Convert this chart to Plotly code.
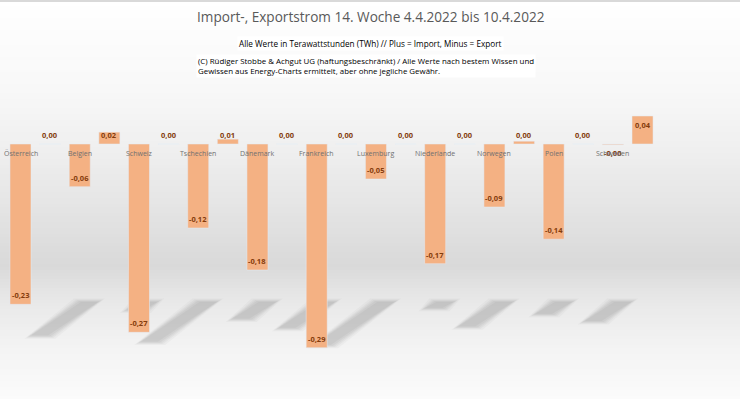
import plotly.graph_objects as go

countries = ["Österreich", "Belgien", "Schweiz", "Tschechien", "Dänemark", "Frankreich",
             "Luxemburg", "Niederlande", "Norwegen", "Polen", "Schweden"]
export_twh = [-0.229, -0.061, -0.269, -0.120, -0.180, -0.291, -0.050, -0.171, -0.090, -0.136, -0.001]
import_twh = [0.000, 0.017, 0.000, 0.007, 0.000, 0.000, 0.000, 0.000, 0.004, 0.000, 0.040]

title = "Import-, Exportstrom 14. Woche 4.4.2022 bis 10.4.2022"
sub1 = "Alle Werte in Terawattstunden (TWh) // Plus = Import, Minus = Export"
sub2 = ("(C) Rüdiger Stobbe & Achgut UG (haftungsbeschränkt) / Alle Werte nach bestem Wissen und<br>"
        "Gewissen aus Energy-Charts ermittelt, aber ohne jegliche Gewähr.")

W, H = 740, 399
BAR = "#F4B183"
LBL = "#843C0C"
FONT = "Open Sans"

# axis geometry (pixels -> data)
x0_px, x_step = 20.5, 29.62
y0_px, y_scale = 144.0, 700.0
xr = [-x0_px / x_step, (W - x0_px) / x_step]
yr = [-(H - y0_px) / y_scale, y0_px / y_scale]
pad = 9 / y_scale
BW = 0.71

xe = [2 * i for i in range(len(countries))]
xi = [2 * i + 1 for i in range(len(countries))]

fig = go.Figure()
fig.add_trace(go.Bar(x=xe, y=export_twh, width=BW, marker_color=BAR, name="Export", hoverinfo="skip"))
fig.add_trace(go.Bar(x=xi, y=import_twh, width=BW, marker_color=BAR, name="Import", hoverinfo="skip"))

def fmt(v):
    return f"{v:.2f}".replace(".", ",")

ann = []
for x, v in zip(xe, export_twh):
    ann.append(dict(x=x, y=min(v + pad, -pad), text=fmt(v), showarrow=False,
                    font=dict(family=FONT, size=7.5, color=LBL, weight="bold"), yanchor="middle"))
for x, v in zip(xi, import_twh):
    ann.append(dict(x=x, y=max(v - pad, pad), text=fmt(v), showarrow=False,
                    font=dict(family=FONT, size=7.5, color=LBL, weight="bold"), yanchor="middle"))
for x, c in zip(xe, countries):
    ann.append(dict(x=x, y=-pad, text=c, showarrow=False,
                    font=dict(family=FONT, size=7, color="#707070"), yanchor="middle"))

ann.append(dict(xref="paper", yref="paper", x=0.501, y=1 - 16 / H, text=title, showarrow=False,
                font=dict(family=FONT, size=13.6, color="#595959"), yanchor="middle", xanchor="center"))
ann.append(dict(xref="paper", yref="paper", x=0.5, y=1 - 43 / H, text=sub1, showarrow=False,
                font=dict(family=FONT, size=8.2, color="#000000"), yanchor="middle", xanchor="center",
                bgcolor="white"))
ann.append(dict(xref="paper", yref="paper", x=196 / W, y=1 - 66 / H, text=sub2, showarrow=False,
                align="left", font=dict(family=FONT, size=7.9, color="#000000"),
                yanchor="middle", xanchor="left", bgcolor="white", borderpad=1))

# background gradient
stops = [(0, 255), (12, 254), (90, 248), (150, 239), (200, 230), (265, 217), (300, 232), (350, 244), (399, 251)]
bg = []
step = 3
for py in range(0, H, step):
    mid = py + step / 2
    for (a, ca), (b, cb) in zip(stops[:-1], stops[1:]):
        if a <= mid <= b:
            c = int(round(ca + (cb - ca) * (mid - a) / (b - a)))
            break
    bg.append(dict(type="rect", xref="paper", yref="paper", x0=0, x1=1,
                   y0=1 - (py + step) / H, y1=1 - py / H,
                   fillcolor=f"rgb({c},{c},{c})", line=dict(width=0), layer="below"))
bg.append(dict(type="line", xref="paper", yref="paper", x0=0, x1=1, y0=1 - 1 / H, y1=1 - 1 / H,
               line=dict(color="#d9d9d9", width=2), layer="below"))

# perspective shadows of the export bars (derived from bar values)
def to_x(px):
    return (px - x0_px) / x_step
def to_y(py):
    return (y0_px - py) / y_scale

shadows = []
for x, v in zip(xe, export_twh):
    L = -v * y_scale
    if L < 3:
        continue
    cx = x0_px + x * x_step
    tx, ty = cx + 69, 301
    bx, by = tx - 0.31 * L, ty + 0.22 * L
    for grow, op in [(5, 0.05), (3, 0.06), (1.5, 0.07), (0, 0.08), (-2, 0.08)]:
        hw = 10.5 + grow
        pts = [(tx - hw, ty - grow / 2), (tx + hw, ty - grow / 2),
               (bx + hw, by + grow / 2), (bx - hw, by + grow / 2)]
        path = "M " + " L ".join(f"{to_x(px):.4f},{to_y(py):.5f}" for px, py in pts) + " Z"
        shadows.append(dict(type="path", xref="x", yref="y", path=path,
                            fillcolor=f"rgba(110,110,110,{op})", line=dict(width=0), layer="below"))

fig.update_layout(
    width=W, height=H, margin=dict(l=0, r=0, t=0, b=0),
    paper_bgcolor="white", plot_bgcolor="rgba(0,0,0,0)",
    showlegend=False, barmode="overlay", hovermode=False,
    xaxis=dict(range=xr, visible=False, fixedrange=True),
    yaxis=dict(range=yr, visible=False, fixedrange=True),
    annotations=ann, shapes=bg + shadows,
)
fig.write_html("out.html", config={"displayModeBar": False},
               post_script="document.body.style.margin='0';document.body.style.padding='0';document.body.style.overflow='hidden';")
